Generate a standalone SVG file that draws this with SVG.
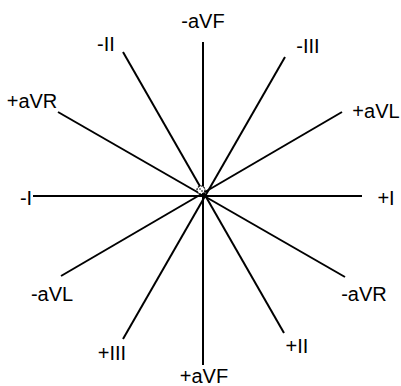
<svg xmlns="http://www.w3.org/2000/svg" width="401" height="386" viewBox="0 0 401 386">
<style>
.ax{stroke:#000;stroke-width:2;fill:none}
.lb{font-family:"Liberation Sans",Arial,sans-serif;font-size:20px;fill:#000}
</style>
<rect width="401" height="386" fill="#fff"/>
<g id="connectors">
<line class="ax" x1="33" y1="196" x2="362" y2="196"/>
<line class="ax" x1="203" y1="42" x2="203" y2="365"/>
<line class="ax" x1="123" y1="52" x2="284" y2="333"/>
<line class="ax" x1="285" y1="57" x2="123" y2="339"/>
<line class="ax" x1="58" y1="112" x2="345" y2="277"/>
<line class="ax" x1="342" y1="112" x2="61" y2="276"/>
</g>
<g id="center"><circle cx="201" cy="190" r="4" fill="#fff" stroke="#000" stroke-width="1.2" stroke-dasharray="2 1"/><circle cx="200" cy="189" r="0.8" fill="#000"/><circle cx="202" cy="191" r="0.8" fill="#000"/></g>
<g id="n-aVF"><text class="lb" x="203" y="28" text-anchor="middle">-aVF</text></g>
<g id="n-II"><text class="lb" x="106" y="51" text-anchor="middle">-II</text></g>
<g id="n-III"><text class="lb" x="308" y="53" text-anchor="middle">-III</text></g>
<g id="n+aVR"><text class="lb" x="32" y="108" text-anchor="middle">+aVR</text></g>
<g id="n+aVL"><text class="lb" x="376" y="118" text-anchor="middle">+aVL</text></g>
<g id="n-I"><text class="lb" x="26" y="205" text-anchor="middle">-I</text></g>
<g id="n+I"><text class="lb" x="386" y="205" text-anchor="middle">+I</text></g>
<g id="n-aVL"><text class="lb" x="52" y="301" text-anchor="middle">-aVL</text></g>
<g id="n-aVR"><text class="lb" x="364" y="301" text-anchor="middle">-aVR</text></g>
<g id="n+III"><text class="lb" x="112" y="360" text-anchor="middle">+III</text></g>
<g id="n+II"><text class="lb" x="297" y="353" text-anchor="middle">+II</text></g>
<g id="n+aVF"><text class="lb" x="204" y="383" text-anchor="middle">+aVF</text></g>
</svg>
